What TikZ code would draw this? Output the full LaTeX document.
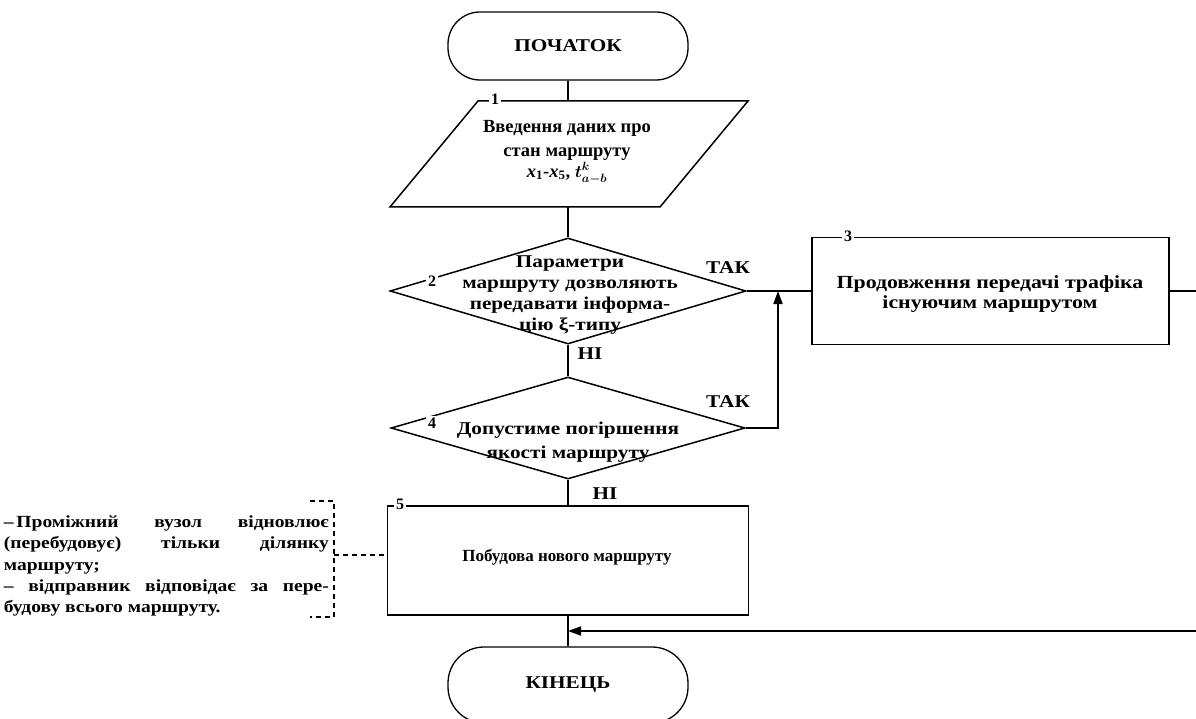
\documentclass[tikz,border=0pt]{standalone}
\usepackage{fontspec}
\setmainfont{Liberation Serif}
\newfontfamily\widefont[FakeStretch=1.18]{Liberation Serif}
\newfontfamily\notefont[FakeStretch=1.15]{Liberation Serif}
\usetikzlibrary{shapes.geometric,arrows.meta}
\begin{document}
\begin{tikzpicture}[x=1pt,y=-1pt,line width=1.8pt,
  lbl/.style={font=\widefont\fontsize{18}{21}\selectfont\bfseries,align=center,inner sep=0pt},
  plain/.style={font=\fontsize{17}{21}\selectfont\bfseries,align=center,inner sep=0pt},
  num/.style={font=\fontsize{16}{18}\selectfont\bfseries,fill=white,inner sep=2pt},
  term/.style={draw,line width=1.3pt,rectangle,rounded corners=32pt,minimum width=240pt,minimum height=68pt,inner sep=0pt,font=\widefont\fontsize{18}{21}\selectfont\bfseries},
  blk/.style={draw,rectangle,inner sep=0pt},
  dia/.style={draw,diamond,inner sep=0pt,line width=1.5pt},
  arr/.style={-{Triangle[length=13pt,width=9pt]}},
  dsh/.style={line width=1.6pt,dash pattern=on 5pt off 4pt}]
\useasboundingbox (0,0) rectangle (1196,719);

% terminals
\node[term] (start) at (568,46) {ПОЧАТОК};
\node[term,minimum height=76pt,rounded corners=36pt] (stop) at (568,685) {КІНЕЦЬ};

% block 1: input parallelogram
\draw[line width=1.5pt] (390,207) -- (478,101) -- (748,101) -- (660,207) -- cycle;
\coordinate (p1n) at (568,101);
\coordinate (p1s) at (568,207);
\node[plain,font=\fontsize{18.5}{24}\selectfont\bfseries] (p1) at (567,152) {Введення даних про\\стан маршруту\\[-3pt]
  {\bfseries\itshape x}\textsubscript{1}-{\bfseries\itshape x}\textsubscript{5}, {\boldmath$t^{k}_{a-b}$}};
\node[num] (n1) at (495,99) {1};

% block 2: decision
\node[dia,minimum width=356pt,minimum height=106pt] (d2) at (568,291) {};
\node[lbl] (t2) at (570,295) {Параметри\\маршруту дозволяють\\передавати інформа-\\цію ξ-типу};
\node[num] (n2) at (432,281) {2};

% block 3
\node[blk,minimum width=357pt,minimum height=107pt] (b3) at (990.5,291) {};
\node[lbl,font=\widefont\fontsize{18.5}{20}\selectfont\bfseries] (t3) at (990,294) {Продовження передачі трафіка\\існуючим маршрутом};
\node[num] (n3) at (848,236) {3};

% block 4: decision
\node[dia,minimum width=354pt,minimum height=102pt] (d4) at (568,428) {};
\node[lbl,font=\widefont\fontsize{18}{24}\selectfont\bfseries] (t4) at (568,442) {Допустиме погіршення\\якості маршруту};
\node[num] (n4) at (432,423) {4};

% block 5
\node[blk,minimum width=361pt,minimum height=109pt] (b5) at (568,560.5) {};
\node[plain] (t5) at (567,557) {Побудова нового маршруту};
\node[num] (n5) at (400,504) {5};

% labels
\node[lbl] (yes2) at (728,268) {ТАК};
\node[lbl] (no2) at (590,354) {НІ};
\node[lbl] (yes4) at (728,402) {ТАК};
\node[lbl] (no4) at (605,494) {НІ};

% comment
\node[anchor=north west,inner sep=0pt,align=left,font=\notefont\fontsize{17}{21.3}\selectfont\bfseries] (note) at (3,515) {%
\makebox[325pt][s]{–\,Проміжний вузол відновлює}\\
\makebox[325pt][s]{(перебудовує) тільки ділянку}\\
маршруту;\\
\makebox[325pt][s]{– відправник відповідає за пере-}\\
будову всього маршруту.};
\coordinate (br) at (334,555);
\draw[dsh] (310,501) -- (334,501) -- (334,617) -- (310,617);
\draw[dsh] (br) -- (b5.west |- br);

% connectors
\draw (start.south) -- (p1n);
\draw (p1s) -- (d2.north);
\draw (d2.south) -- (d4.north);
\draw (d4.south) -- (b5.north);
\draw (b5.south) -- (stop.north);
\draw (d2.east) -- (b3.west);
\coordinate (j1) at (778,291);
\draw[arr] (d4.east) -- (j1 |- d4.east) -- (j1);
\coordinate (j2) at (568,631);
\coordinate (rt) at (1202,291);
\draw[arr] (b3.east) -- (rt) -- (rt |- j2) -- (j2);
\end{tikzpicture}
\end{document}
